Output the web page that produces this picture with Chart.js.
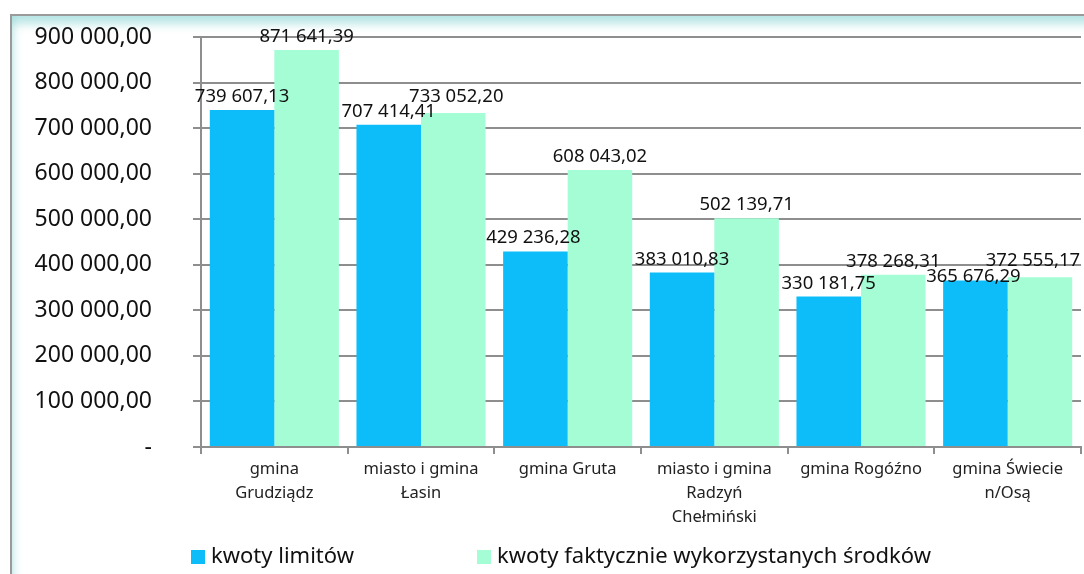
<!DOCTYPE html>
<html>
<head>
<meta charset="utf-8">
<script src="https://cdn.jsdelivr.net/npm/chart.js@4/dist/chart.umd.min.js"></script>
<style>
  html,body{margin:0;padding:0;background:#fff;}
  #wrap{position:relative;width:1084px;height:574px;overflow:hidden;font-family:'Noto Sans',sans-serif;}
  #frame{position:absolute;left:10px;top:14px;width:1090px;height:600px;
    border-top:2px solid #9a9a9a;border-left:2px solid #9a9a9a;
    box-shadow:inset 0 12px 10px -4px rgba(140,212,212,.6), inset 6px 0 8px -4px rgba(140,212,212,.45);}
  #chart{position:absolute;left:0;top:0;}
  #legend{position:absolute;top:539px;left:0;width:1084px;height:30px;font-size:22px;color:#111;}
  #legend span{position:absolute;top:0;white-space:nowrap;line-height:30px;}
  #legend i{display:inline-block;width:14px;height:14px;margin-right:6px;vertical-align:-1px;}
</style>
</head>
<body>
<div id="wrap">
  <div id="frame"></div>
  <canvas id="chart" width="1084" height="574"></canvas>
  <div id="legend"></div>
</div>
<script>
const categories=[
  ['gmina','Grudziądz'],
  ['miasto i gmina','Łasin'],
  ['gmina Gruta'],
  ['miasto i gmina','Radzyń','Chełmiński'],
  ['gmina Rogóźno'],
  ['gmina Świecie','n/Osą']
];
const limity=[739607.13,707414.41,429236.28,383010.83,330181.75,365676.29];
const wykorzystane=[871641.39,733052.20,608043.02,502139.71,378268.31,372555.17];
const seriesNames=['kwoty limitów','kwoty faktycznie wykorzystanych środków'];
const COL={blue:'#0dbdfa',green:'#a4fdd5',grid:'#8e8e8e',text:'#111'};

const fmtPL=v=>{
  if(v===0)return '-';
  const [i,d]=v.toFixed(2).split('.');
  return i.replace(/\B(?=(\d{3})+(?!\d))/g,' ')+','+d;
};

// value labels above bars; the last pair was moved by hand in the original
const NUDGE={'1-1':[3,-3],'0-2':[-2,0],'0-5':[-2,10],'1-5':[-7,-3]};
const valueLabels={
  id:'valueLabels',
  afterDatasetsDraw(chart){
    const {ctx}=chart;
    ctx.save();
    ctx.font="18.5px 'Noto Sans',sans-serif";
    ctx.fillStyle=COL.text;
    ctx.textAlign='center';
    ctx.textBaseline='bottom';
    chart.data.datasets.forEach((ds,di)=>{
      chart.getDatasetMeta(di).data.forEach((bar,i)=>{
        const [dx,dy]=NUDGE[di+'-'+i]||[0,0];
        ctx.fillText(fmtPL(ds.data[i]),bar.x+dx,bar.y-4+dy);
      });
    });
    ctx.restore();
  }
};

new Chart(document.getElementById('chart'),{
  type:'bar',
  plugins:[valueLabels],
  data:{
    labels:categories,
    datasets:[
      {label:seriesNames[0],data:limity,backgroundColor:COL.blue,borderWidth:0},
      {label:seriesNames[1],data:wykorzystane,backgroundColor:COL.green,borderWidth:0}
    ]
  },
  options:{
    responsive:false,animation:false,
    layout:{padding:{top:37,right:3,left:0,bottom:0}},
    categoryPercentage:0.88,barPercentage:1,
    plugins:{legend:{display:false},tooltip:{enabled:false}},
    scales:{
      x:{
        grid:{drawOnChartArea:false,color:COL.grid,lineWidth:2,tickLength:7},
        border:{color:COL.grid,width:2},
        ticks:{color:'#222',font:{size:16.5,family:'Noto Sans',lineHeight:1.45},padding:3,maxRotation:0,autoSkip:false},
        afterFit:s=>{s.height=127;}
      },
      y:{
        min:0,max:900000,
        grid:{color:COL.grid,lineWidth:2,tickLength:8},
        border:{color:COL.grid,width:2},
        ticks:{stepSize:100000,color:COL.text,font:{size:23,family:'Noto Sans'},padding:41,callback:v=>fmtPL(v)},
        // label padding pushes the plot down in v4, so drop it
        afterFit:s=>{s.width=201;s.paddingTop=0;s.paddingBottom=0;}
      }
    }
  }
});

// legend
const lg=document.getElementById('legend');
[[191,COL.blue],[477,COL.green]].forEach(([x,c],i)=>{
  const s=document.createElement('span');
  s.style.left=x+'px';
  s.innerHTML='<i style="background:'+c+'"></i>'+seriesNames[i];
  lg.appendChild(s);
});
</script>
</body>
</html>
